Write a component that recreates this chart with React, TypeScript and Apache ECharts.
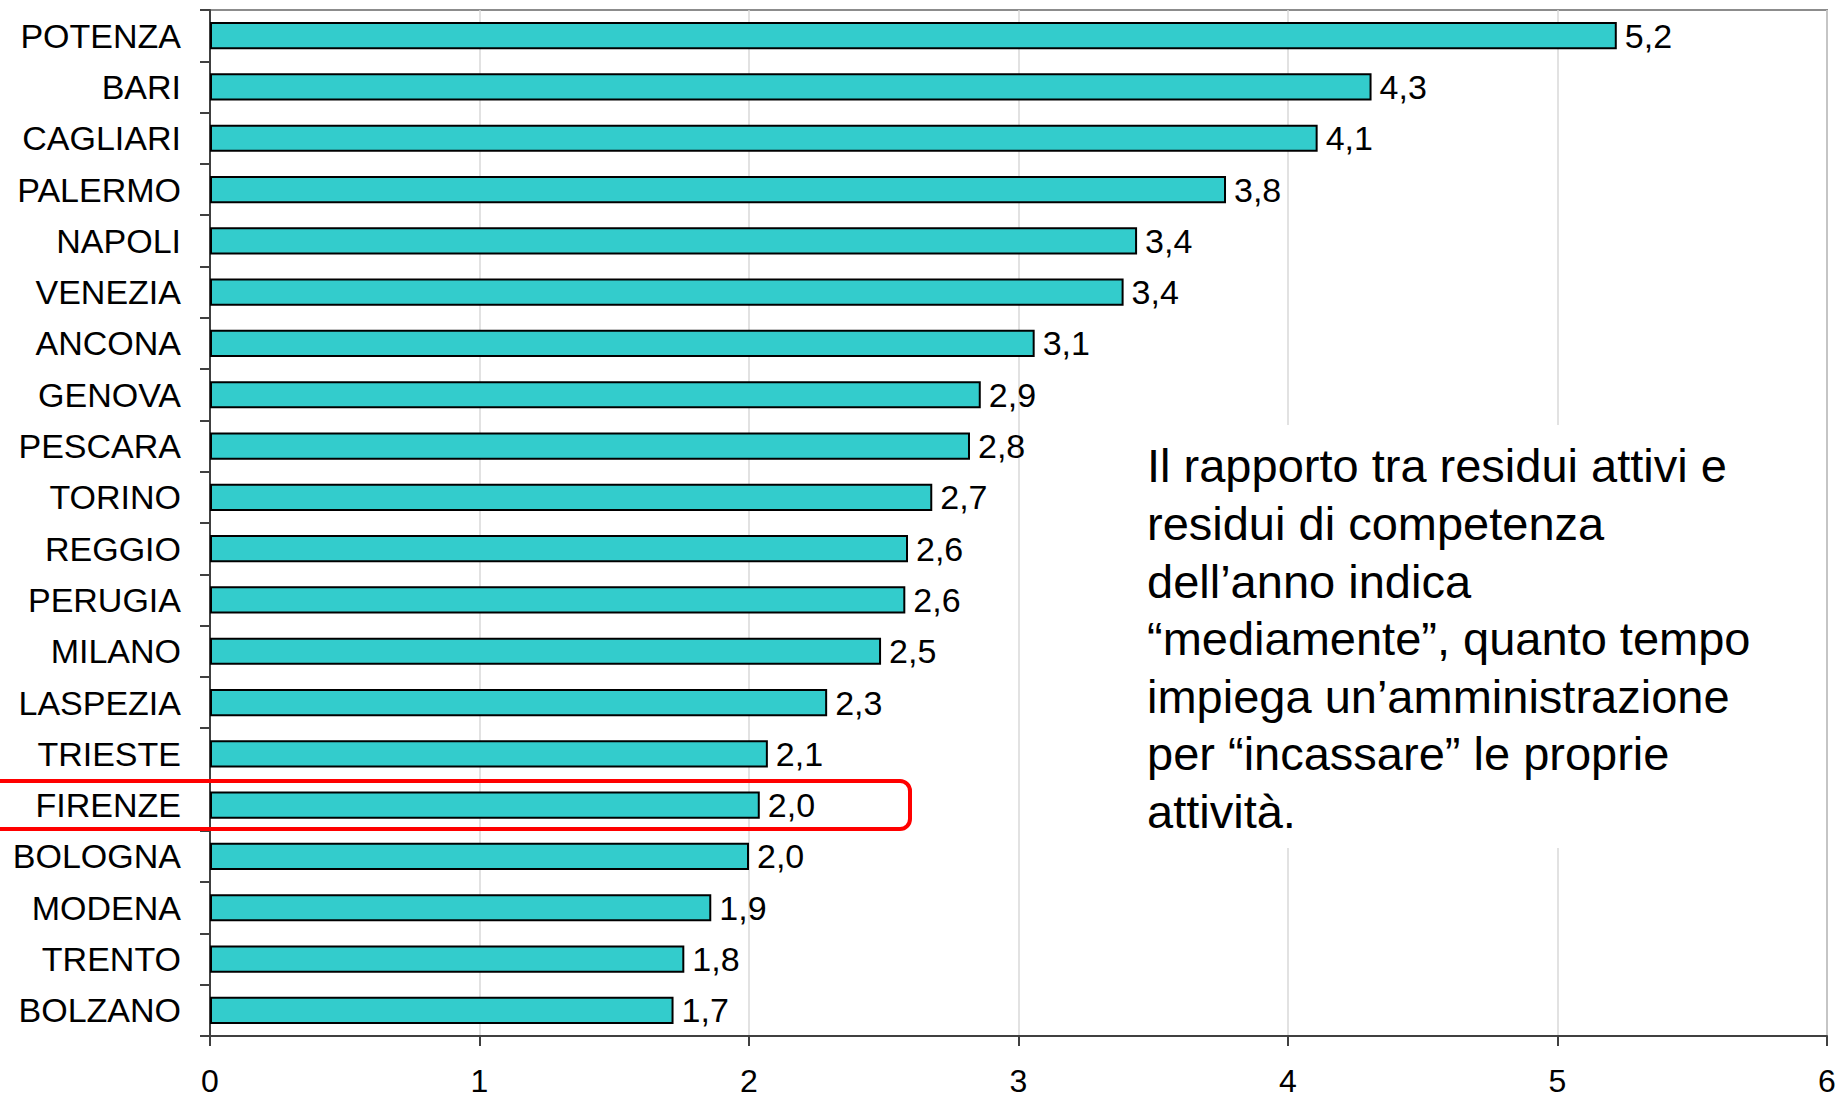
import React, { useEffect, useRef } from "react";
import * as echarts from "echarts";

const categories = [
  "POTENZA", "BARI", "CAGLIARI", "PALERMO", "NAPOLI", "VENEZIA", "ANCONA",
  "GENOVA", "PESCARA", "TORINO", "REGGIO", "PERUGIA", "MILANO", "LASPEZIA",
  "TRIESTE", "FIRENZE", "BOLOGNA", "MODENA", "TRENTO", "BOLZANO",
];
const values = [
  5.22, 4.31, 4.11, 3.77, 3.44, 3.39, 3.06,
  2.86, 2.82, 2.68, 2.59, 2.58, 2.49, 2.29,
  2.07, 2.04, 2.0, 1.86, 1.76, 1.72,
];
const xTicks = [0, 1, 2, 3, 4, 5, 6];
const noteLines = [
  "Il rapporto tra residui attivi e",
  "residui di competenza",
  "dell\u2019anno indica",
  "\u201cmediamente\u201d, quanto tempo",
  "impiega un\u2019amministrazione",
  "per \u201cincassare\u201d le proprie",
  "attivit\u00e0.",
];

const FONT = "'Liberation Sans', Arial, sans-serif";

export default function App() {
  const ref = useRef<HTMLDivElement>(null);
  useEffect(() => {
    if (!ref.current) return;
    const chart = echarts.init(ref.current, null, { renderer: "svg" });
    chart.setOption({
      animation: false,
      backgroundColor: "#ffffff",
      textStyle: { fontFamily: FONT },
      grid: {
        left: 210,
        right: 8,
        top: 10,
        bottom: 62,
        show: true,
        borderColor: "#8c8c8c",
        borderWidth: 2,
        containLabel: false,
        outerBoundsMode: "none",
      },
      xAxis: {
        type: "value",
        min: xTicks[0],
        max: xTicks[xTicks.length - 1],
        interval: 1,
        axisLine: { show: true, lineStyle: { color: "#404040", width: 2 } },
        axisTick: { show: true, length: 10, lineStyle: { color: "#404040", width: 2 } },
        splitLine: { show: true, lineStyle: { color: "#d9d9d9", width: 1.5 } },
        axisLabel: {
          color: "#000",
          fontSize: 32,
          fontFamily: FONT,
          margin: 29,
        },
      },
      yAxis: {
        type: "category",
        data: categories,
        inverse: true,
        axisLine: { show: true, lineStyle: { color: "#404040", width: 2 } },
        axisTick: { show: true, length: 10, lineStyle: { color: "#404040", width: 2 } },
        axisLabel: {
          color: "#000",
          fontSize: 34,
          fontFamily: FONT,
          margin: 29,
        },
        splitLine: { show: false },
      },
      series: [
        {
          type: "bar",
          data: values,
          barCategoryGap: "47%",
          itemStyle: { color: "#33CCCC", borderColor: "#000", borderWidth: 2 },
          label: {
            show: true,
            position: "right",
            distance: 8,
            color: "#000",
            fontSize: 34,
            fontFamily: FONT,
            formatter: (p: any) => Number(p.value).toFixed(1).replace(".", ","),
          },
        },
      ],
      graphic: [
        {
          type: "rect",
          shape: { x: 1130, y: 425, width: 670, height: 423 },
          style: { fill: "#ffffff" },
          z: 50,
        },
        {
          type: "text",
          x: 1147,
          y: 437,
          z: 51,
          style: {
            text: noteLines.join("\n"),
            font: `47px ${FONT}`,
            lineHeight: 57.6,
            fill: "#000",
            textAlign: "left",
            textVerticalAlign: "top",
          },
        },
        {
          type: "rect",
          shape: { x: -12, y: 781, width: 922, height: 48, r: 10 },
          style: { fill: "none", stroke: "#ff0000", lineWidth: 4 },
          z: 60,
        },
      ],
    });
    return () => chart.dispose();
  }, []);
  return (
    <div
      ref={ref}
      style={{ position: "fixed", left: 0, top: 0, width: 1835, height: 1098, background: "#fff" }}
    />
  );
}
